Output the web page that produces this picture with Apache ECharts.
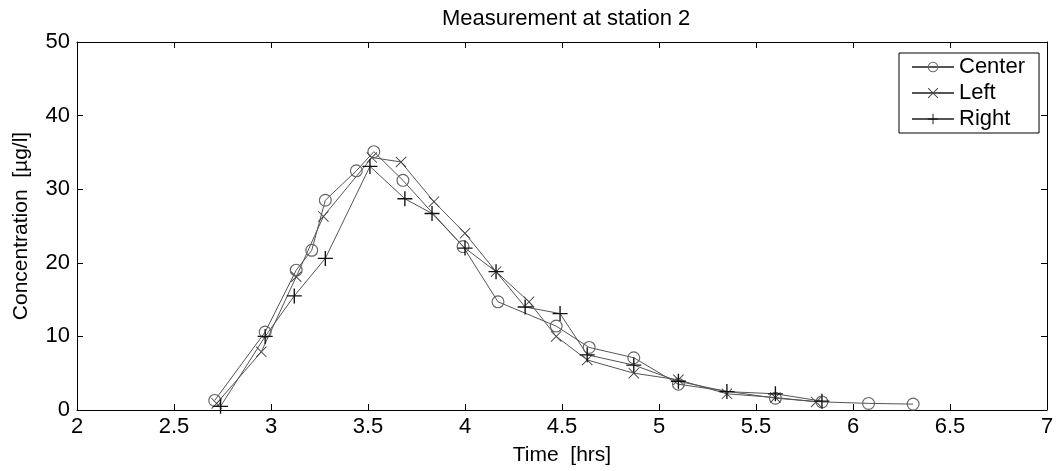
<!DOCTYPE html>
<html>
<head>
<meta charset="utf-8">
<script src="https://cdn.jsdelivr.net/npm/echarts@6/dist/echarts.min.js"></script>
<style>
html, body { margin: 0; padding: 0; background: #fff; }
#chart { width: 1061px; height: 471px; }
</style>
</head>
<body>
<div id="chart"></div>
<script>
// values
var centerTime = [2.71, 2.97, 3.13, 3.21, 3.28, 3.44, 3.53, 3.68, 3.99, 4.17, 4.47, 4.64, 4.87, 5.10, 5.60, 5.84, 6.08, 6.31];
var centerConc = [1.3, 10.6, 19.0, 21.7, 28.5, 32.5, 35.1, 31.2, 22.2, 14.7, 11.4, 8.5, 7.1, 3.5, 1.6, 1.1, 0.9, 0.8];

var leftTime = [2.72, 2.95, 3.13, 3.27, 3.52, 3.67, 3.84, 4.00, 4.16, 4.33, 4.47, 4.63, 4.87, 5.10, 5.35, 5.60, 5.81];
var leftConc = [0.9, 7.9, 18.1, 26.3, 34.3, 33.7, 28.3, 24.0, 18.8, 14.7, 10.0, 6.8, 5.0, 4.1, 2.2, 1.7, 1.1];

var rightTime = [2.74, 2.97, 3.12, 3.28, 3.51, 3.69, 3.83, 4.00, 4.16, 4.31, 4.49, 4.63, 4.87, 5.10, 5.35, 5.60, 5.84];
var rightConc = [0.5, 10.0, 15.5, 20.6, 33.1, 28.7, 26.7, 22.0, 18.8, 14.0, 13.1, 7.5, 6.1, 3.9, 2.5, 2.2, 1.2];

var xTicks = [2, 7, 0.5];
var yTicks = [0, 50, 10];

function pairs(t, c) {
    var out = [];
    for (var i = 0; i < t.length; i++) out.push([t[i], c[i]]);
    return out;
}

var font = 'Liberation Sans';
// open ring, plus and cross markers (matlab style)
var ringPath = 'path://M5,0A5,5 0 1,1 5,10A5,5 0 1,1 5,0Z M5,0.9A4.1,4.1 0 1,0 5,9.1A4.1,4.1 0 1,0 5,0.9Z';
var plusPath = 'path://M0,4.55H10V5.45H0Z M4.55,0H5.45V10H4.55Z';
var crossPath = 'path://M0,0.6L0.6,0L10,9.4L9.4,10Z M9.4,0L10,0.6L0.6,10L0,9.4Z';

function axisX(pos, show) {
    return {
        type: 'value', position: pos, min: xTicks[0], max: xTicks[1], interval: xTicks[2],
        axisLine: { show: true, onZero: false, lineStyle: { color: '#000', width: 1 } },
        axisTick: { show: true, inside: true, length: 6, lineStyle: { color: '#000' } },
        axisLabel: { show: show, color: '#000', fontFamily: font, fontSize: 22, margin: 6 },
        splitLine: { show: false },
        name: show ? 'Time  [hrs]' : '', nameLocation: 'middle', nameGap: 35,
        nameTextStyle: { color: '#000', fontFamily: font, fontSize: 21 }
    };
}
function axisY(pos, show) {
    return {
        type: 'value', position: pos, min: yTicks[0], max: yTicks[1], interval: yTicks[2],
        axisLine: { show: true, onZero: false, lineStyle: { color: '#000', width: 1 } },
        axisTick: { show: true, inside: true, length: 6, lineStyle: { color: '#000' } },
        axisLabel: { show: show, color: '#000', fontFamily: font, fontSize: 22, margin: 7 },
        splitLine: { show: false },
        name: show ? 'Concentration  [\u00b5g/l]' : '', nameLocation: 'middle', nameGap: 45,
        nameTextStyle: { color: '#000', fontFamily: font, fontSize: 21 }
    };
}

var myChart = echarts.init(document.getElementById('chart'));
var option = {
    animation: false,
    backgroundColor: '#fff',
    title: {
        text: 'Measurement at station 2', left: 437, top: 3,
        textStyle: { color: '#000', fontFamily: font, fontSize: 22, fontWeight: 'normal' }
    },
    grid: { left: 77, right: 14, top: 42, bottom: 61 },
    legend: {
        orient: 'vertical', left: 899, top: 53,
        padding: [3, 14, 3, 12], itemGap: 4, itemWidth: 42, itemHeight: 13,
        borderColor: '#000', borderWidth: 1, borderRadius: 0, backgroundColor: '#fff',
        textStyle: { color: '#000', fontFamily: font, fontSize: 22, lineHeight: 22 },
        data: ['Center', 'Left', 'Right']
    },
    xAxis: [axisX('bottom', true), axisX('top', false)],
    yAxis: [axisY('left', true), axisY('right', false)],
    series: [
        {
            name: 'Center', type: 'line', data: pairs(centerTime, centerConc),
            symbol: ringPath, symbolSize: 13,
            lineStyle: { color: '#555', width: 1 },
            itemStyle: { color: '#666' }
        },
        {
            name: 'Left', type: 'line', data: pairs(leftTime, leftConc),
            symbol: crossPath, symbolSize: 11,
            lineStyle: { color: '#555', width: 1 },
            itemStyle: { color: '#444' }
        },
        {
            name: 'Right', type: 'line', data: pairs(rightTime, rightConc),
            symbol: plusPath, symbolSize: 15,
            lineStyle: { color: '#555', width: 1 },
            itemStyle: { color: '#111' }
        }
    ]
};
myChart.setOption(option);
</script>
</body>
</html>
